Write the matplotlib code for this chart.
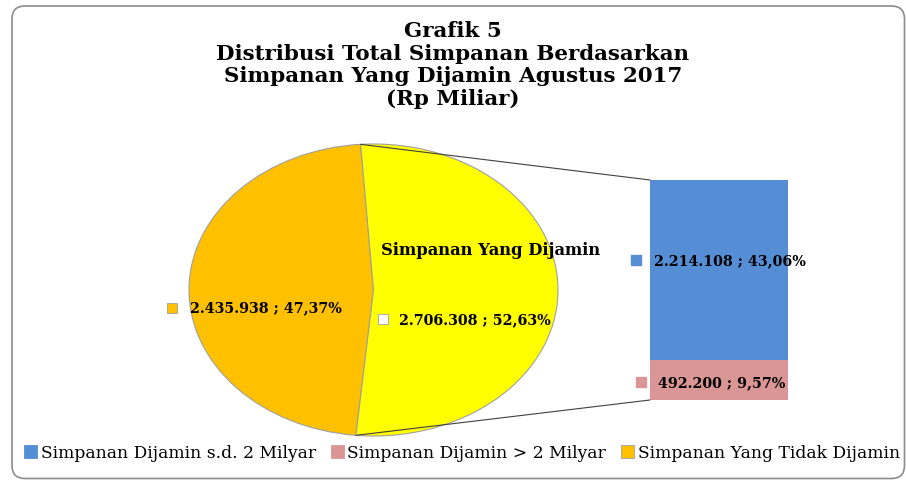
import matplotlib
matplotlib.use("Agg")
import matplotlib.pyplot as plt
from matplotlib.patches import FancyBboxPatch, Patch, ConnectionPatch
import numpy as np

# ---- data ----
title_lines = ["Grafik 5", "Distribusi Total Simpanan Berdasarkan",
               "Simpanan Yang Dijamin Agustus 2017", "(Rp Miliar)"]
pie_labels = ["Simpanan Yang Tidak Dijamin", "Simpanan Yang Dijamin"]
pie_values = [2435938, 2706308]
pie_pct = ["47,37%", "52,63%"]
bar_labels = ["Simpanan Dijamin > 2 Milyar", "Simpanan Dijamin s.d. 2 Milyar"]
bar_values = [492200, 2214108]
bar_pct = ["9,57%", "43,06%"]
legend_order = ["Simpanan Dijamin s.d. 2 Milyar", "Simpanan Dijamin > 2 Milyar",
                "Simpanan Yang Tidak Dijamin"]

col_orange = "#FFC000"
col_yellow = "#FFFF00"
col_blue = "#558ED5"
col_pink = "#D99694"
colors = {"Simpanan Yang Tidak Dijamin": col_orange,
          "Simpanan Yang Dijamin": col_yellow,
          "Simpanan Dijamin s.d. 2 Milyar": col_blue,
          "Simpanan Dijamin > 2 Milyar": col_pink}

def fmt(v):
    return f"{v:,}".replace(",", ".")

W, H = 906, 481
fig = plt.figure(figsize=(W / 100, H / 100), dpi=100)

def fx(px): return px / W
def fy(py): return 1 - py / H

# background axes in pixel units (y up) for the rounded border
axbg = fig.add_axes([0, 0, 1, 1])
axbg.set_xlim(0, W)
axbg.set_ylim(0, H)
axbg.axis("off")
axbg.add_patch(FancyBboxPatch((12, H - 479.5), 904.5 - 12, 479.5 - 7,
                              boxstyle="round,pad=0,rounding_size=13",
                              fill=False, edgecolor="#8c8c8c", linewidth=1.2))

serif_b = ["DejaVu Serif"]
for i, t in enumerate(title_lines):
    fig.text(0.5, fy(31 + i * 22.6), t, ha="center", va="center",
             fontsize=15.4, fontweight="bold", family=serif_b)

# ---- pie ----
axp = fig.add_axes([fx(189), fy(437), fx(558) - fx(189), (437 - 145) / H])
wedges, _ = axp.pie(pie_values, colors=[colors[l] for l in pie_labels],
                    startangle=94, counterclock=True,
                    wedgeprops=dict(edgecolor="#a0a0a0", linewidth=0.8))
axp.set_aspect("auto")
axp.set_xlim(-1, 1)
axp.set_ylim(-1, 1)
axp.axis("off")

lab_font = dict(fontsize=10.3, fontweight="bold", family=["DejaVu Serif"])
# orange label
axp.plot([-1.092], [-0.12], marker="s", ms=6.5, color=col_orange, mec="#a0a0a0",
         mew=0.6, clip_on=False)
axp.text(-0.995, -0.12, f"{fmt(pie_values[0])} ; {pie_pct[0]}", va="center",
         ha="left", **lab_font)
# yellow label
axp.plot([0.05], [-0.2], marker="s", ms=6.5, color="white", mec="#a0a0a0",
         mew=0.6, clip_on=False)
axp.text(0.14, -0.2, f"{fmt(pie_values[1])} ; {pie_pct[1]}", va="center",
         ha="left", **lab_font)
axp.text(0.04, 0.28, pie_labels[1], va="center", ha="left",
         fontsize=11.8, fontweight="bold", family=["DejaVu Serif"])

# ---- bar ----
axb = fig.add_axes([fx(650), fy(401), fx(788) - fx(650), (401 - 181) / H])
bottom = 0
for lab, v in zip(bar_labels, bar_values):
    axb.bar(0, v, bottom=bottom, width=1.0, color=colors[lab], linewidth=0)
    bottom += v
total = sum(bar_values)
axb.set_xlim(-0.5, 0.5)
axb.set_ylim(0, total)
axb.axis("off")

yb1 = bar_values[0] + bar_values[1] * 0.555
axb.plot([-0.6], [yb1], marker="s", ms=6.5, color=col_blue, mec=col_blue, clip_on=False)
axb.text(-0.47, yb1, f"{fmt(bar_values[1])} ; {bar_pct[1]}", va="center", ha="left",
         **lab_font)
yb0 = bar_values[0] * 0.45
axb.plot([-0.565], [yb0], marker="s", ms=6.5, color=col_pink, mec=col_pink, clip_on=False)
axb.text(-0.44, yb0, f"{fmt(bar_values[0])} ; {bar_pct[0]}", va="center", ha="left",
         **lab_font)

# connectors
a1 = np.deg2rad(94)
a2 = np.deg2rad(94 + 360 * pie_values[0] / sum(pie_values))
for ang, yb in [(a1, total), (a2, 0)]:
    cp = ConnectionPatch(xyA=(np.cos(ang), np.sin(ang)), coordsA=axp.transData,
                         xyB=(-0.5, yb), coordsB=axb.transData,
                         color="#404040", linewidth=0.8)
    fig.add_artist(cp)

# legend
handles = [Patch(facecolor=colors[l],
                 edgecolor=("#a0a0a0" if l == legend_order[2] else colors[l]),
                 linewidth=0.6) for l in legend_order]
fig.legend(handles, legend_order, loc="center", bbox_to_anchor=(fx(462), fy(454)),
           ncol=3, frameon=False, handlelength=0.75, handleheight=0.75,
           handletextpad=0.2, columnspacing=0.9,
           prop=dict(family=["DejaVu Serif"], size=12.3))

fig.savefig("out.png", dpi=100)
